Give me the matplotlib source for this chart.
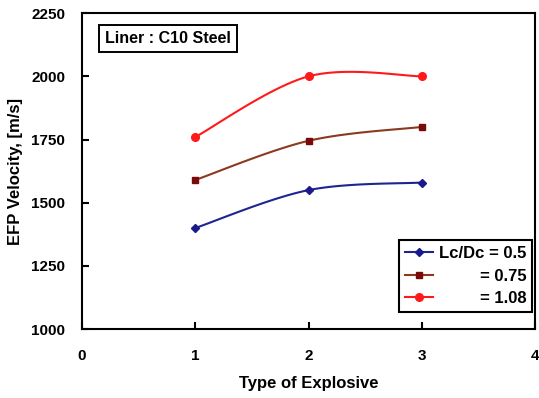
import numpy as np
import matplotlib.pyplot as plt
from matplotlib.transforms import Affine2D

plt.rcParams["font.family"] = ["Liberation Sans", "DejaVu Sans"]
plt.rcParams["font.weight"] = "bold"

# Data
explosive_type = [1, 2, 3]
v_05 = [1400, 1550, 1580]
v_075 = [1590, 1745, 1800]
v_108 = [1760, 2000, 2000]

labels = ["Lc/Dc = 0.5", "= 0.75", "= 1.08"]


def smooth(x, y, n=40):
    # Catmull-Rom spline through the points (like a spreadsheet "smoothed line")
    x = np.asarray(x, float)
    y = np.asarray(y, float)
    px = np.concatenate([[x[0]], x, [x[-1]]])
    py = np.concatenate([[y[0]], y, [y[-1]]])
    xs, ys = [], []
    for i in range(1, len(px) - 2):
        t = np.linspace(0, 1, n)
        p0, p1, p2, p3 = [np.array([px[j], py[j]]) for j in range(i - 1, i + 3)]
        m1 = (p2 - p0) / 2
        m2 = (p3 - p1) / 2
        h00 = 2 * t**3 - 3 * t**2 + 1
        h10 = t**3 - 2 * t**2 + t
        h01 = -2 * t**3 + 3 * t**2
        h11 = t**3 - t**2
        pts = (np.outer(h00, p1) + np.outer(h10, m1)
               + np.outer(h01, p2) + np.outer(h11, m2))
        xs.append(pts[:, 0])
        ys.append(pts[:, 1])
    return np.concatenate(xs), np.concatenate(ys)


fig = plt.figure(figsize=(5.39, 3.98), dpi=100)
ax = fig.add_axes([0.152, 0.173, 0.841, 0.794])

series = [
    (v_05, "#1f2590", "#1a1a8c", "D", 4.5),
    (v_075, "#8b3a1f", "#7a0a0a", "s", 5),
    (v_108, "#ff1a1a", "#ff1a1a", "o", 5.5),
]

for (vals, lc, mc, mk, ms), lab in zip(series, labels):
    sx, sy = smooth(explosive_type, vals)
    ax.plot(sx, sy, color=lc, lw=1.5)
    ax.plot(explosive_type, vals, ls="none", marker=mk, ms=ms, color=mc)
    ax.plot([], [], color=lc, lw=1.5, marker=mk, ms=ms, mfc=mc, mec=mc, label=lab)

ax.set_xlim(0, 4)
ax.set_ylim(1000, 2250)
ax.set_xticks([0, 1, 2, 3, 4])
ax.set_yticks([1000, 1250, 1500, 1750, 2000, 2250])
ax.tick_params(direction="in", length=5, width=1.5, labelsize=11)
ax.tick_params(axis="x", pad=14)
ax.tick_params(axis="y", pad=12)
for s in ax.spines.values():
    s.set_linewidth(1.5)

ax.set_xlabel("Type of Explosive", fontsize=12, fontweight="bold", labelpad=10)
ax.set_ylabel("EFP Velocity, [m/s]", fontsize=12, fontweight="bold", labelpad=6)

ax.text(0.051, 0.92, "Liner : C10 Steel", transform=ax.transAxes,
        fontsize=11.5, fontweight="bold", va="center", ha="left",
        bbox=dict(boxstyle="square,pad=0.4", fc="white", ec="black", lw=1.4))

leg = ax.legend(loc="lower right", bbox_to_anchor=(0.993, 0.054),
                fancybox=False, edgecolor="black", framealpha=1,
                fontsize=12, handlelength=1.7, handletextpad=0.35,
                labelspacing=0.45, borderpad=0.35, borderaxespad=0)
leg.get_frame().set_linewidth(1.5)

# right-align the legend labels
fig.canvas.draw()
r = fig.canvas.get_renderer()
texts = leg.get_texts()
widths = [t.get_window_extent(r).width for t in texts]
wmax = max(widths)
for t, w in zip(texts, widths):
    t.set_transform(t.get_transform() + Affine2D().translate(wmax - w, 0))

fig.savefig("out.png", dpi=100)
